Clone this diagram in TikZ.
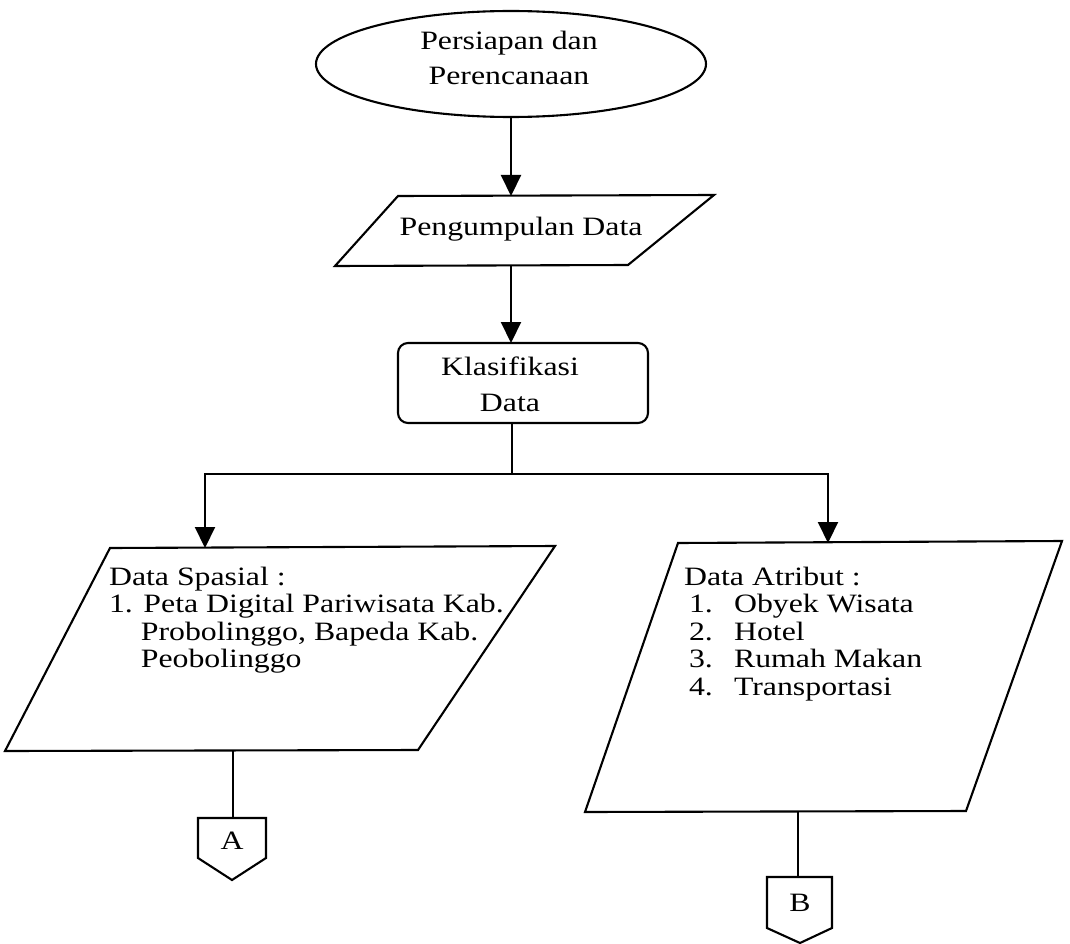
\documentclass[tikz,border=0pt]{standalone}
\usepackage{fontspec}
\setmainfont[FakeStretch=1.2]{Liberation Serif}
\usetikzlibrary{arrows.meta,shapes.geometric}

\begin{document}
\begin{tikzpicture}[x=1pt,y=-1pt,line width=2.1pt,line join=miter,
  txt/.style={font=\fontsize{26.5}{27.5}\selectfont,inner sep=0pt},
  flow/.style={-{Triangle[width=20pt,length=21pt]}},
  box/.style={draw,line width=2.1pt}]
\useasboundingbox (0,0) rectangle (1070,944);

% start: preparation and planning
\node[box,ellipse,minimum width=390pt,minimum height=106pt,inner sep=0pt] (start) at (511,64) {};
\node[txt,align=center,font=\fontsize{26.5}{35}\selectfont] (startlbl) at (509,58) {Persiapan dan\\Perencanaan};

% data collection (input)
\coordinate (pd1) at (398,196);
\coordinate (pd2) at (714,195);
\coordinate (pd3) at (628,265);
\coordinate (pd4) at (335,266);
\draw (pd1) -- (pd2) -- (pd3) -- (pd4) -- cycle;
\coordinate (pd-n) at (511,196);
\coordinate (pd-s) at (511,265);
\node[txt,anchor=base] (pdlbl) at (521,235) {Pengumpulan Data};

% classification (process)
\node[box,rounded corners=10pt,minimum width=250pt,minimum height=80pt,inner sep=0pt] (kd) at (523,383) {};
\node[txt,align=center,font=\fontsize{26.5}{36}\selectfont] (kdlbl) at (510,384) {Klasifikasi\\Data};
\coordinate (kd-n) at (511,343);
\coordinate (kd-s) at (512,423);

% branch point
\coordinate (split) at (512,474);
\coordinate (splitL) at (205,474);
\coordinate (splitR) at (828,474);

% spatial data (input)
\coordinate (sp1) at (110,548);
\coordinate (sp2) at (555,546);
\coordinate (sp3) at (418,750);
\coordinate (sp4) at (5,751);
\draw (sp1) -- (sp2) -- (sp3) -- (sp4) -- cycle;
\coordinate (sp-n) at (205,548);
\coordinate (sp-s) at (233,750);
\node[txt,align=left,anchor=north west] (splbl) at (108,566)
  {Data Spasial :\\
   1. Peta Digital Pariwisata Kab.\\
   \phantom{1.} Probolinggo, Bapeda Kab.\\
   \phantom{1.} Peobolinggo};

% attribute data (input)
\coordinate (at1) at (678,543);
\coordinate (at2) at (1062,541);
\coordinate (at3) at (966,811);
\coordinate (at4) at (585,812);
\draw (at1) -- (at2) -- (at3) -- (at4) -- cycle;
\coordinate (at-n) at (828,543);
\coordinate (at-s) at (798,811);
\node[txt,align=left,anchor=north west] (atlbl) at (683,566)
  {Data Atribut :\\
   \hspace*{5pt}\makebox[45pt][l]{1.}Obyek Wisata\\
   \hspace*{5pt}\makebox[45pt][l]{2.}Hotel\\
   \hspace*{5pt}\makebox[45pt][l]{3.}Rumah Makan\\
   \hspace*{5pt}\makebox[45pt][l]{4.}Transportasi};

% off-page connector A
\coordinate (a1) at (198,818);
\coordinate (a2) at (266,818);
\coordinate (a3) at (266,858);
\coordinate (a4) at (232,880);
\coordinate (a5) at (198,858);
\draw (a1) -- (a2) -- (a3) -- (a4) -- (a5) -- cycle;
\coordinate (a-n) at (233,818);
\node[txt] (albl) at (232,841) {A};

% off-page connector B
\coordinate (b1) at (767,877);
\coordinate (b2) at (832,877);
\coordinate (b3) at (832,928);
\coordinate (b4) at (800,943);
\coordinate (b5) at (767,928);
\draw (b1) -- (b2) -- (b3) -- (b4) -- (b5) -- cycle;
\coordinate (b-n) at (798,877);
\node[txt] (blbl) at (800,903) {B};

% connectors
\draw[flow] (start.south) -- (pd-n);
\draw[flow] (pd-s) -- (kd-n);
\draw (kd-s) -- (split);
\draw[flow] (split) -- (splitL) -- (sp-n);
\draw[flow] (split) -- (splitR) -- (at-n);
\draw (sp-s) -- (a-n);
\draw (at-s) -- (b-n);
\end{tikzpicture}
\end{document}
